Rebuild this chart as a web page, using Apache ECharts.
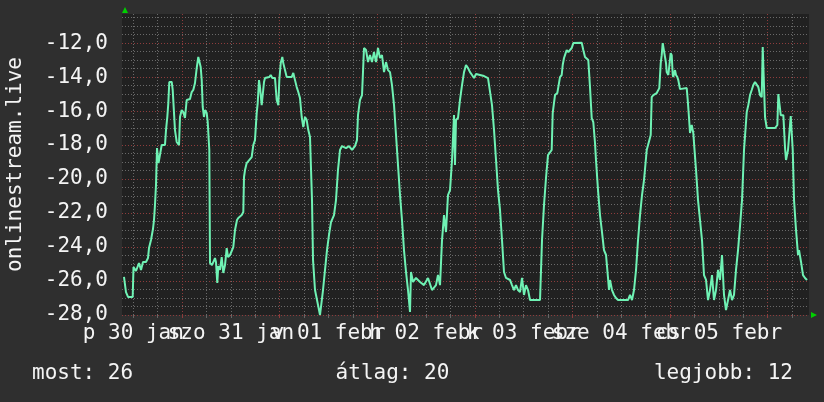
<!DOCTYPE html>
<html><head><meta charset="utf-8">
<script src="https://cdn.jsdelivr.net/npm/echarts@6/dist/echarts.min.js"></script>
<style>html,body{margin:0;padding:0;background:#2f2f2f}#c{width:824px;height:402px}</style>
</head><body><div id="c"></div>
<script>
// time in hours since 2015-01-30 00:00
const hours = [9.71,10.20,10.70,11.85,12.05,12.66,13.40,13.89,14.38,15.12,15.61,15.86,16.35,16.84,17.09,17.33,17.58,17.83,18.20,18.69,18.98,19.79,20.04,20.36,20.61,20.85,21.44,21.69,22.01,22.25,22.67,23.24,23.48,23.90,24.29,24.71,25.13,25.94,26.36,26.75,27.17,27.59,27.98,28.40,28.57,28.82,29.07,29.38,29.63,30.05,30.30,30.69,30.86,31.35,32.09,32.33,32.65,32.90,33.15,33.32,33.74,34.13,34.55,34.97,35.29,35.78,36.59,37.01,37.50,37.82,38.66,39.05,39.22,39.47,39.88,40.28,41.11,41.51,41.92,42.34,42.59,42.91,43.15,43.57,43.89,44.14,44.38,44.80,45.44,45.78,46.18,46.84,47.26,47.66,47.90,48.25,48.64,48.88,49.30,49.72,50.95,51.34,51.76,52.18,52.57,52.99,53.41,53.80,54.22,54.64,55.03,55.45,55.94,56.19,56.68,57.42,57.91,58.40,58.65,59.14,59.63,60.12,60.61,61.35,61.84,62.33,62.83,63.32,64.30,65.04,65.78,66.51,67.00,67.25,67.74,68.24,68.73,69.22,69.71,70.20,70.69,71.19,71.68,72.17,72.66,73.15,73.65,74.14,74.63,75.12,75.61,76.11,76.60,77.09,77.58,78.07,78.56,79.06,79.55,80.04,80.28,80.78,81.51,82.50,83.48,84.47,85.45,86.43,86.92,87.42,87.91,88.40,88.89,89.38,89.88,90.37,90.86,91.10,91.35,91.84,92.33,92.83,93.32,93.81,94.30,94.79,95.29,95.78,96.27,97.25,98.24,99.22,99.71,100.20,100.70,101.19,101.68,102.17,102.66,103.15,103.65,104.63,105.12,105.61,106.10,106.60,107.09,107.58,108.07,108.56,109.06,109.55,112.01,112.50,112.99,113.48,113.97,114.88,115.13,115.69,116.26,116.51,116.92,117.34,117.59,117.91,118.15,118.57,118.97,119.39,119.80,120.20,120.61,122.26,122.65,123.07,123.88,124.30,124.72,125.11,125.53,125.77,126.27,126.76,127.25,127.74,128.24,128.73,128.97,129.22,129.71,130.20,130.69,131.19,132.17,133.65,134.14,134.63,135.12,135.62,136.11,136.60,137.09,137.58,138.25,139.23,139.47,139.87,140.70,141.34,141.69,141.93,142.18,142.50,142.74,142.99,143.16,143.56,143.97,144.14,144.39,144.64,144.78,145.20,145.45,145.77,146.01,146.43,148.08,148.33,148.65,148.89,149.31,149.70,149.95,150.37,150.86,151.35,151.84,152.33,152.83,153.32,153.81,154.30,154.79,155.29,155.78,156.27,156.76,157.25,157.74,158.24,158.73,159.22,159.71,160.20,160.70,161.19,161.68,162.17,162.84,163.23,163.65,164.07,164.46,164.88,165.30,165.69,166.11,166.53,166.77,167.09,167.34,167.76,169.80,170.37,170.61,170.86,171.20,171.84,172.26,172.50,172.99,173.66,173.98,174.15,174.47,174.96,175.45,175.70,176.19,176.68,177.17,177.67];
const values = [-25.76,-26.65,-26.94,-26.94,-25.18,-25.41,-24.94,-25.35,-24.88,-24.88,-24.65,-24.06,-23.59,-22.94,-22.41,-21.53,-20.35,-18.18,-19.06,-19.06,-18.00,-18.00,-17.12,-16.35,-15.53,-14.29,-14.29,-14.76,-14.76,-17.12,-17.82,-18.00,-16.35,-15.94,-16.06,-16.41,-15.35,-15.29,-14.88,-14.76,-14.35,-13.47,-12.82,-12.71,-13.41,-14.18,-15.76,-16.35,-15.94,-16.12,-16.65,-18.29,-24.94,-25.06,-24.65,-24.88,-26.12,-25.12,-25.06,-25.35,-24.59,-25.53,-25.06,-24.06,-24.59,-24.47,-24.00,-23.00,-22.41,-22.29,-22.12,-21.94,-19.88,-19.47,-19.06,-19.00,-18.71,-18.00,-17.71,-16.12,-15.53,-14.18,-14.59,-15.65,-15.65,-14.29,-14.06,-14.00,-14.00,-13.88,-14.06,-14.06,-15.35,-15.65,-14.18,-13.18,-12.82,-13.18,-13.18,-14.00,-14.00,-13.76,-14.18,-14.59,-14.88,-15.24,-16.35,-16.94,-16.35,-16.53,-17.12,-17.53,-21.24,-24.76,-26.53,-27.41,-28.00,-28.00,-26.53,-25.35,-24.18,-23.29,-22.53,-22.12,-21.24,-19.47,-18.29,-18.06,-18.18,-18.06,-18.29,-18.06,-17.71,-16.24,-15.35,-15.06,-12.29,-12.41,-13.12,-12.71,-13.12,-12.53,-13.12,-12.29,-12.88,-12.71,-13.71,-13.12,-13.59,-13.71,-14.47,-15.65,-17.41,-19.18,-20.94,-22.41,-24.18,-25.47,-26.53,-27.82,-25.47,-26.06,-25.82,-26.06,-26.24,-25.82,-26.53,-26.24,-25.65,-26.24,-23.59,-22.12,-23.12,-20.94,-20.65,-18.88,-16.24,-19.18,-16.53,-16.41,-15.35,-14.47,-13.71,-13.29,-13.47,-13.71,-13.88,-14.06,-13.82,-13.88,-13.94,-14.06,-14.06,-15.65,-17.12,-18.88,-20.65,-21.82,-23.59,-25.47,-25.82,-25.94,-26.24,-26.53,-26.24,-26.53,-26.65,-25.82,-26.82,-26.24,-26.53,-27.12,-27.12,-23.59,-21.53,-19.94,-18.59,-18.29,-16.12,-15.06,-14.94,-14.59,-14.00,-13.88,-13.29,-12.88,-12.71,-12.41,-12.53,-12.59,-12.29,-12.00,-11.98,-11.98,-12.41,-12.82,-13.00,-14.59,-16.41,-16.65,-17.88,-18.88,-20.65,-22.12,-23.12,-24.18,-24.47,-25.82,-26.53,-25.94,-26.53,-26.82,-27.00,-27.12,-27.12,-27.12,-26.82,-27.12,-26.53,-25.35,-23.59,-22.12,-20.94,-20.06,-18.29,-17.41,-15.18,-15.06,-14.94,-14.65,-13.18,-12.71,-12.00,-12.00,-12.82,-13.18,-13.71,-13.88,-13.82,-12.59,-12.71,-13.88,-14.00,-13.59,-13.88,-14.00,-14.18,-14.71,-14.65,-15.35,-16.41,-17.29,-16.82,-17.29,-18.12,-19.47,-21.24,-22.41,-23.59,-25.65,-25.94,-27.12,-26.53,-25.65,-27.12,-26.53,-25.35,-25.94,-24.47,-26.82,-27.71,-27.12,-26.53,-27.12,-26.82,-25.35,-24.18,-22.76,-21.24,-18.29,-16.06,-15.65,-15.06,-14.76,-14.47,-14.29,-14.35,-14.59,-15.06,-15.18,-12.24,-12.24,-16.35,-17.00,-17.00,-16.82,-15.00,-15.00,-16.24,-16.24,-18.18,-18.88,-18.29,-16.29,-16.35,-18.29,-21.24,-23.00,-24.47,-24.18,-24.88,-25.65,-25.82,-25.94];

const dayLabelHours = [12, 36, 60, 84, 108, 132, 156];
const dayLabels = ['p 30 jan', 'szo 31 jan', 'v 01 febr', 'h 02 febr', 'k 03 febr', 'sze 04 febr', 'cs 05 febr'];
const minorXTicks = [12,18,24,30,36,42,48,54,60,66,72,78,84,90,96,102,108,114,120,126,132,138,144,150,156,162,168,174];
const majorXTicks = [24, 48, 72, 96, 120, 144, 168];
const minorYTicks = [];
for (let v = -28; v <= -10.5; v += 0.5) minorYTicks.push(v);
const majorYTicks = [-28, -26, -24, -22, -20, -18, -16, -14, -12];
const yTitle = 'onlinestream.live';
const legendTexts = ['most: 26', 'átlag: 20', 'legjobb: 12'];

const xMin = 9.22, xMax = 178.15, yMin = -28, yMax = -10.29;
const FONT = 'DejaVu Sans Mono';
const labelMap = {};
dayLabelHours.forEach((h, i) => labelMap[h] = dayLabels[i]);
// split labels over two axes so neighbours on one axis never collide (they overlap in the original)
const labelsA = dayLabelHours.filter((h, i) => i % 2 === 0);
const labelsB = dayLabelHours.filter((h, i) => i % 2 === 1);

const chart = echarts.init(document.getElementById('c'), null, {renderer: 'canvas'});
const dotGrey = {color: '#6a6a6a', width: 1, type: [1, 2]};
const dotRed = {color: '#8e3c3c', width: 1, type: [1, 2]};
const labelStyle = {show: true, hideOverlap: false, showMinLabel: true, showMaxLabel: true, margin: 8,
  formatter: v => labelMap[Math.round(v)] || '', color: '#f4f4f4', fontFamily: FONT, fontSize: 21};
chart.setOption({
  animation: false,
  backgroundColor: '#2f2f2f',
  grid: {left: 122, right: 15, top: 14, bottom: 87, show: true, backgroundColor: '#212121', borderWidth: 0,
         containLabel: false, outerBoundsMode: 'none'},
  xAxis: [
    {type: 'value', min: xMin, max: xMax, position: 'bottom',
     axisLine: {show: false},
     axisTick: {show: true, customValues: minorXTicks, length: 3, lineStyle: {color: '#666'}},
     splitLine: {show: true, lineStyle: dotGrey},
     axisLabel: Object.assign({customValues: labelsA}, labelStyle)},
    {type: 'value', min: xMin, max: xMax, position: 'bottom',
     axisLine: {show: false},
     axisTick: {show: true, customValues: majorXTicks, length: 3, lineStyle: {color: '#8e3c3c'}},
     splitLine: {show: true, lineStyle: dotRed},
     axisLabel: Object.assign({customValues: labelsB}, labelStyle)}
  ],
  yAxis: [
    {type: 'value', min: yMin, max: yMax, position: 'left',
     axisLine: {show: false}, axisTick: {show: false, customValues: minorYTicks},
     splitLine: {show: true, lineStyle: dotGrey}, axisLabel: {show: false}},
    {type: 'value', min: yMin, max: yMax, position: 'left',
     axisLine: {show: false}, axisTick: {show: false, customValues: majorYTicks},
     splitLine: {show: true, lineStyle: dotRed},
     axisLabel: {show: true, customValues: majorYTicks, showMinLabel: true, margin: 14, color: '#f4f4f4', fontFamily: FONT, fontSize: 21,
       formatter: v => v.toFixed(1).replace('.', ',')},
     name: yTitle, nameLocation: 'middle', nameGap: 96, nameRotate: 90,
     nameTextStyle: {color: '#f4f4f4', fontFamily: FONT, fontSize: 21}}
  ],
  series: [{
    type: 'line', xAxisIndex: 0, yAxisIndex: 0,
    data: hours.map((h, i) => [h, values[i]]),
    showSymbol: false, symbol: 'none',
    lineStyle: {color: '#6ff2b4', width: 2},
    clip: true
  }],
  graphic: [
    {type: 'polygon', shape: {points: [[122, 13], [128, 13], [125, 7]]}, style: {fill: '#00d000'}},
    {type: 'polygon', shape: {points: [[811, 312], [811, 318], [817, 315]]}, style: {fill: '#00d000'}},
    {type: 'text', x: 32, y: 374, style: {text: legendTexts[0], font: '21px "' + FONT + '"', fill: '#f4f4f4', verticalAlign: 'middle', align: 'left'}},
    {type: 'text', x: 392.5, y: 374, style: {text: legendTexts[1], font: '21px "' + FONT + '"', fill: '#f4f4f4', verticalAlign: 'middle', align: 'center'}},
    {type: 'text', x: 793, y: 374, style: {text: legendTexts[2], font: '21px "' + FONT + '"', fill: '#f4f4f4', verticalAlign: 'middle', align: 'right'}}
  ]
});
</script></body></html>
